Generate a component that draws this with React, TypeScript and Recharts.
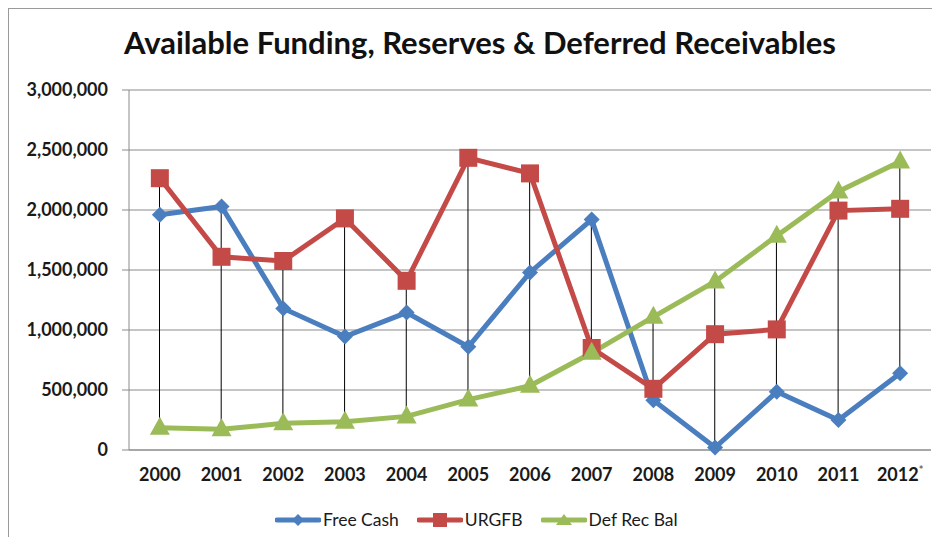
import { Bar, CartesianGrid, ComposedChart, Line, XAxis, YAxis } from "recharts";

const years = ["2000", "2001", "2002", "2003", "2004", "2005", "2006", "2007", "2008", "2009", "2010", "2011", "2012*"];
const freeCash = [1960000, 2030000, 1180000, 945000, 1145000, 860000, 1480000, 1920000, 415000, 20000, 485000, 250000, 640000];
const urgfb = [2265000, 1610000, 1575000, 1930000, 1410000, 2435000, 2305000, 850000, 510000, 965000, 1005000, 1995000, 2010000];
const defRecBal = [185000, 172000, 222000, 235000, 280000, 420000, 535000, 810000, 1110000, 1405000, 1785000, 2155000, 2405000];
const yTicks = [0, 500000, 1000000, 1500000, 2000000, 2500000, 3000000];

const BLUE = "#4a7ebf";
const RED = "#c44a48";
const GREEN = "#9bbb59";
const FONT = "Lato, 'Open Sans', sans-serif";

const data = years.map((year, i) => {
  const vals = [freeCash[i], urgfb[i], defRecBal[i]];
  return {
    year,
    freeCash: freeCash[i],
    urgfb: urgfb[i],
    defRecBal: defRecBal[i],
    hl: [Math.min(...vals), Math.max(...vals)],
  };
});

const Diamond = (p: any) => {
  const { cx, cy, fill } = p;
  if (cx == null || cy == null) return <g key={p.key} />;
  return <polygon key={p.key} points={`${cx},${cy - 8} ${cx + 8},${cy} ${cx},${cy + 8} ${cx - 8},${cy}`} fill={fill} />;
};
const Square = (p: any) => {
  const { cx, cy, fill } = p;
  if (cx == null || cy == null) return <g key={p.key} />;
  return <rect key={p.key} x={cx - 9} y={cy - 9} width={18} height={18} fill={fill} />;
};
const Triangle = (p: any) => {
  const { cx, cy, fill } = p;
  if (cx == null || cy == null) return <g key={p.key} />;
  return <polygon key={p.key} points={`${cx},${cy - 11} ${cx + 10},${cy + 7} ${cx - 10},${cy + 7}`} fill={fill} />;
};

const YearTick = (p: any) => {
  const { x, y, payload } = p;
  const v: string = payload.value;
  const star = v.endsWith("*");
  return (
    <text x={x} y={y} dy="0.71em" textAnchor="middle" fontFamily={FONT} fontWeight={700} fontSize={18} fill="#1a1a1a">
      {star ? v.slice(0, -1) : v}
      {star ? <tspan fontSize={11} dy={-7} fill="#666">*</tspan> : null}
    </text>
  );
};

const legendItems = [
  { name: "Free Cash", color: BLUE, shape: "diamond" },
  { name: "URGFB", color: RED, shape: "square" },
  { name: "Def Rec Bal", color: GREEN, shape: "triangle" },
];

function LegendIcon({ color, shape }: { color: string; shape: string }) {
  return (
    <svg width={46} height={16} style={{ marginRight: 2 }}>
      <line x1={2} y1={8} x2={44} y2={8} stroke={color} strokeWidth={5} strokeLinecap="round" />
      {shape === "diamond" && <polygon points="23,2 29,8 23,14 17,8" fill={color} />}
      {shape === "square" && <rect x={16} y={1} width={14} height={14} fill={color} />}
      {shape === "triangle" && <polygon points="23,2 31,13 15,13" fill={color} />}
    </svg>
  );
}

export default function App() {
  return (
    <div
      style={{
        position: "relative",
        width: 932,
        height: 529,
        boxSizing: "border-box",
        borderTop: "1px solid #9a9a9a",
        borderLeft: "1px solid #9a9a9a",
        background: "#fff",
      }}
    >
      <div
        style={{
          position: "absolute",
          left: 0,
          width: 942,
          top: 14,
          textAlign: "center",
          fontFamily: FONT,
          fontWeight: 700,
          fontSize: 31,
          color: "#111",
        }}
      >
        Available Funding, Reserves &amp; Deferred Receivables
      </div>
      <ComposedChart
        width={931}
        height={528}
        data={data}
        margin={{ top: 81, right: 9, left: 20, bottom: 52 }}
      >
        <CartesianGrid vertical={false} stroke="#8a8a8a" />
        <XAxis
          dataKey="year"
          tick={<YearTick />}
          tickLine={false}
          tickSize={0}
          tickMargin={18}
          axisLine={{ stroke: "#8a8a8a" }}
          height={35}
          interval={0}
        />
        <YAxis
          domain={[0, 3000000]}
          ticks={yTicks}
          width={100}
          tickSize={7}
          tickMargin={14}
          tickLine={{ stroke: "#8a8a8a" }}
          axisLine={{ stroke: "#8a8a8a" }}
          tickFormatter={(v: number) => v.toLocaleString("en-US")}
          tick={{ fontFamily: FONT, fontWeight: 700, fontSize: 18, fill: "#1a1a1a" }}
        />
        <Line
          dataKey="freeCash"
          stroke={BLUE}
          strokeWidth={5}
          dot={<Diamond fill={BLUE} />}
          activeDot={false}
          isAnimationActive={false}
        />
        <Line
          dataKey="urgfb"
          stroke={RED}
          strokeWidth={5}
          dot={<Square fill={RED} />}
          activeDot={false}
          isAnimationActive={false}
        />
        <Line
          dataKey="defRecBal"
          stroke={GREEN}
          strokeWidth={5}
          dot={<Triangle fill={GREEN} />}
          activeDot={false}
          isAnimationActive={false}
        />
        <Bar dataKey="hl" barSize={1} fill="#000" isAnimationActive={false} />
      </ComposedChart>
      <div
        style={{
          position: "absolute",
          left: 266,
          top: 500,
          display: "flex",
          alignItems: "center",
          fontFamily: FONT,
          fontSize: 17.5,
          color: "#1a1a1a",
        }}
      >
        {legendItems.map((it) => (
          <div key={it.name} style={{ display: "flex", alignItems: "center", marginRight: 18 }}>
            <LegendIcon color={it.color} shape={it.shape} />
            <span>{it.name}</span>
          </div>
        ))}
      </div>
    </div>
  );
}
